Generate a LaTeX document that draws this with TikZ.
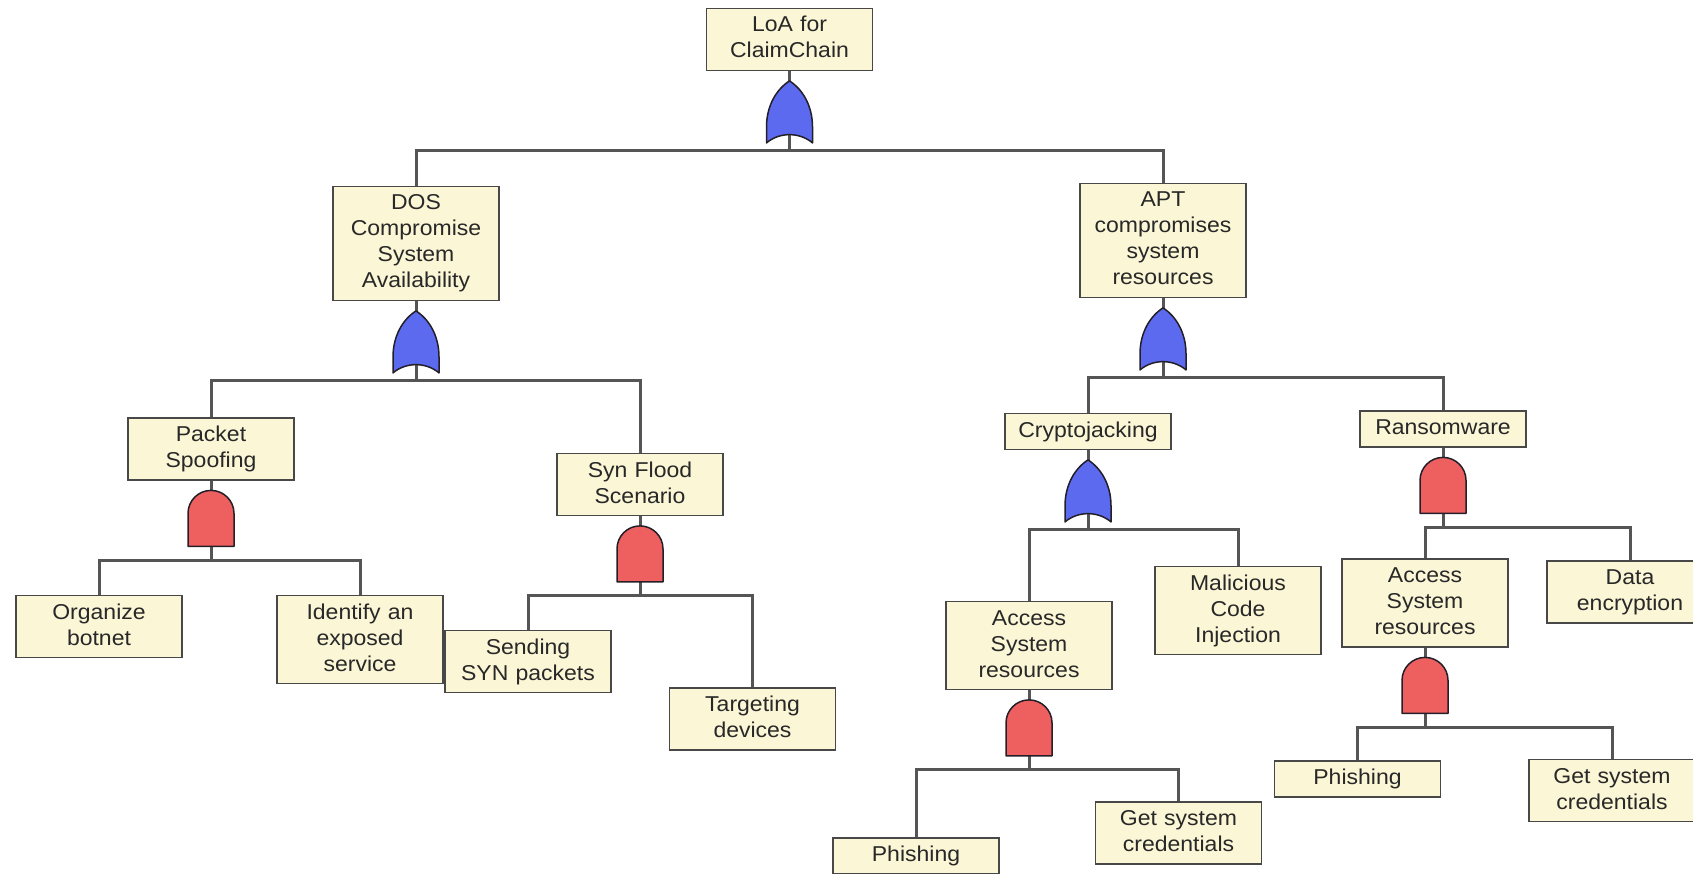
\documentclass[tikz,border=0pt]{standalone}
\usepackage{fontspec}
\setmainfont[FakeStretch=1.07]{Liberation Sans}
\usetikzlibrary{backgrounds}

\definecolor{boxfill}{RGB}{251,246,214}
\definecolor{boxline}{RGB}{72,72,72}
\definecolor{wirecol}{RGB}{85,85,85}
\definecolor{orfill}{RGB}{92,106,240}
\definecolor{andfill}{RGB}{238,96,96}
\definecolor{gateline}{RGB}{35,30,40}
\definecolor{txt}{RGB}{40,40,40}

\tikzset{
  x=1pt, y=-1pt,
  event/.style={draw=boxline, fill=boxfill, line width=1.8pt,
    text width=160pt, inner xsep=3pt, inner ysep=7pt, align=center,
    text height=16.5pt, text=txt,
    font=\fontsize{21.5}{26}\selectfont,
    execute at end node={\rule[-5.5pt]{0pt}{5.5pt}}},
  wire/.style={draw=wirecol, line width=3pt, line join=miter},
  gatebody/.style={draw=gateline, line width=1.5pt, line join=round},
  orgate/.pic={
    \path[gatebody, fill=orfill]
      (0,0) .. controls (14,9) and (23,26) .. (23,46) -- (23,62)
      .. controls (10,51) and (-10,51) .. (-23,62) -- (-23,46)
      .. controls (-23,26) and (-14,9) .. (0,0) -- cycle;
    \coordinate (-top) at (0,0);
    \coordinate (-bus) at (0,70);
  },
  andgate/.pic={
    \path[gatebody, fill=andfill]
      (-23,56) -- (-23,23) .. controls (-23,10.3) and (-12.7,0) .. (0,0)
      .. controls (12.7,0) and (23,10.3) .. (23,23) -- (23,56) -- cycle;
    \coordinate (-top) at (0,0);
    \coordinate (-bus) at (0,70);
  }
}

\begin{document}
\begin{tikzpicture}
\useasboundingbox (0,0) rectangle (1693,874);

% events of the tree
\node[event] (loa)  at (789.5,39.5) {LoA for\\ClaimChain};
\node[event] (dos)  at (416,243.5)  {DOS\\Compromise\\System\\Availability};
\node[event] (apt)  at (1163,240.5) {APT\\compromises\\system\\resources};
\node[event] (pkt)  at (211,449)    {Packet\\Spoofing};
\node[event] (syn)  at (640,484.5)  {Syn Flood\\Scenario};
\node[event] (org)  at (99,626.5)   {Organize\\botnet};
\node[event] (idn)  at (360,639.5)  {Identify an\\exposed\\service};
\node[event] (snd)  at (528,661.5)  {Sending\\SYN packets};
\node[event] (tgt)  at (752.5,719)  {Targeting\\devices};
\node[event] (cry)  at (1088,431.5) {Cryptojacking};
\node[event] (ran)  at (1443,429)   {Ransomware};
\node[event] (accA) at (1029,645.5) {Access\\System\\resources};
\node[event] (mal)  at (1238,610.5) {Malicious\\Code\\Injection};
\node[event] (accB) at (1425,603)   {Access\\System\\resources};
\node[event] (dat)  at (1630,592)   {Data\\encryption};
\node[event] (phiA) at (916,856)    {Phishing};
\node[event] (gscA) at (1178.5,833) {Get system\\credentials};
\node[event] (phiB) at (1357.5,779) {Phishing};
\node[event] (gscB) at (1612,790.5) {Get system\\credentials};

% gates below their parent events
\pic (gLoa) at ([yshift=-9.5pt]loa.south)  {orgate};
\pic (gDos) at ([yshift=-9.5pt]dos.south)  {orgate};
\pic (gApt) at ([yshift=-9.5pt]apt.south)  {orgate};
\pic (gCry) at ([yshift=-9.5pt]cry.south)  {orgate};
\pic (gPkt) at ([yshift=-9.5pt]pkt.south)  {andgate};
\pic (gSyn) at ([yshift=-9.5pt]syn.south)  {andgate};
\pic (gRan) at ([yshift=-9.5pt]ran.south)  {andgate};
\pic (gAcA) at ([yshift=-9.5pt]accA.south) {andgate};
\pic (gAcB) at ([yshift=-9.5pt]accB.south) {andgate};

% connectors behind gates and boxes
\begin{scope}[on background layer]
  \draw[wire] (loa.south) -- (gLoa-bus);
  \draw[wire] (dos.north) |- (gLoa-bus) -| (apt.north);

  \draw[wire] (dos.south) -- (gDos-bus);
  \draw[wire] (pkt.north) |- (gDos-bus) -| (syn.north);

  \draw[wire] (apt.south) -- (gApt-bus);
  \draw[wire] (cry.north) |- (gApt-bus) -| (ran.north);

  \draw[wire] (pkt.south) -- (gPkt-bus);
  \draw[wire] (org.north) |- (gPkt-bus) -| (idn.north);

  \draw[wire] (syn.south) -- (gSyn-bus);
  \draw[wire] (snd.north) |- (gSyn-bus) -| (tgt.north);

  \draw[wire] (cry.south) -- (gCry-bus);
  \draw[wire] (accA.north) |- (gCry-bus) -| (mal.north);

  \draw[wire] (ran.south) -- (gRan-bus);
  \draw[wire] (accB.north) |- (gRan-bus) -| (dat.north);

  \draw[wire] (accA.south) -- (gAcA-bus);
  \draw[wire] (phiA.north) |- (gAcA-bus) -| (gscA.north);

  \draw[wire] (accB.south) -- (gAcB-bus);
  \draw[wire] (phiB.north) |- (gAcB-bus) -| (gscB.north);
\end{scope}
\end{tikzpicture}
\end{document}
